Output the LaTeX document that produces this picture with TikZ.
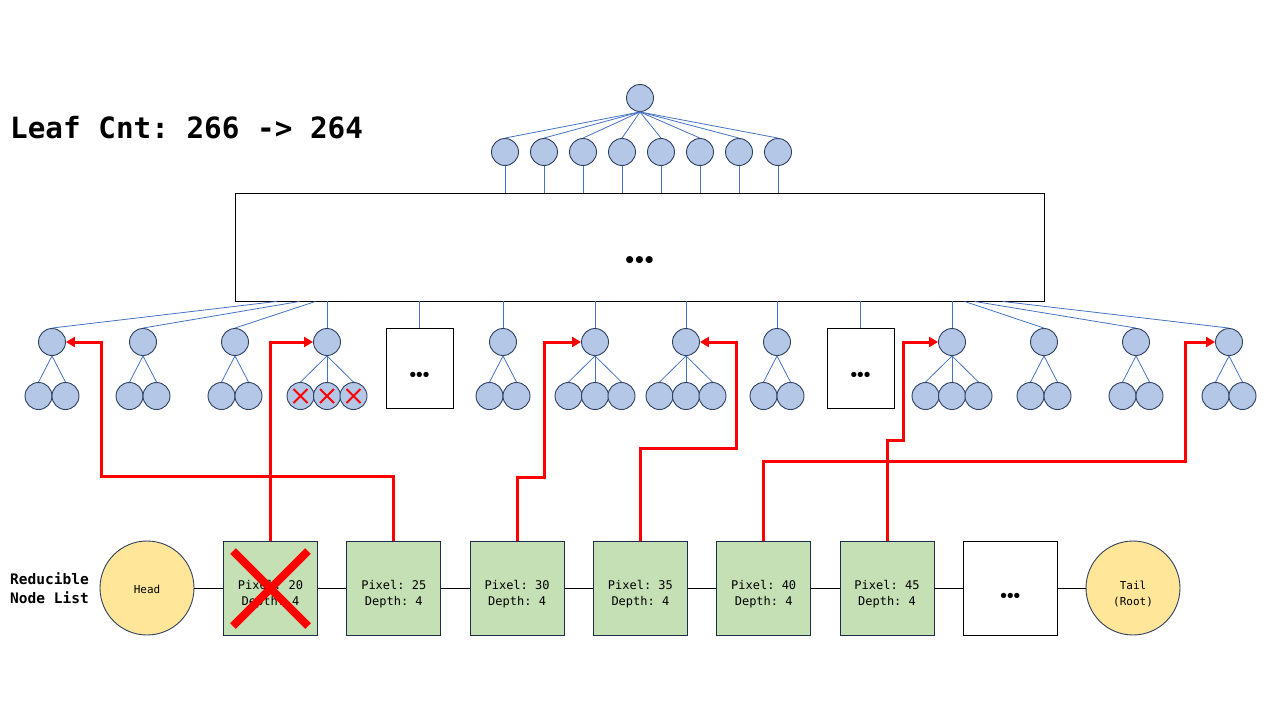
\documentclass[tikz,border=0pt]{standalone}
\usepackage{fontspec}
\setmonofont{DejaVu Sans Mono}
\newfontfamily\dotfont{DejaVu Sans}
\usetikzlibrary{calc,arrows.meta}
\definecolor{cfill}{HTML}{B4C7E7}
\definecolor{cdraw}{HTML}{2F4060}
\definecolor{lblue}{HTML}{4472C4}
\definecolor{gfill}{HTML}{C5E0B4}
\definecolor{gdraw}{HTML}{1F2D4D}
\definecolor{yfill}{HTML}{FFE699}
\definecolor{rred}{HTML}{FF0000}
\newcommand{\tdots}[1]{•\kern-#1pt•\kern-#1pt•}
\begin{document}
\begin{tikzpicture}[x=1pt,y=-1pt,
  tn/.style={circle,fill=cfill,draw=cdraw,line width=0.9pt,minimum size=27pt,inner sep=0pt},
  lk/.style={draw=lblue,line width=0.8pt},
  dbox/.style={draw=black,line width=0.9pt,fill=white,inner sep=0pt},
  lbox/.style={draw=gdraw,fill=gfill,line width=0.9pt,minimum width=94pt,minimum height=94pt,inner sep=0pt,align=center,font=\ttfamily\fontsize{12}{16}\selectfont},
  yc/.style={circle,draw=cdraw,fill=yfill,line width=0.9pt,minimum size=94pt,inner sep=0pt,align=center,font=\ttfamily\fontsize{11}{16}\selectfont},
  redarr/.style={draw=rred,line width=3pt,-{Triangle[length=9pt,width=10pt]}},
  redx/.style={draw=rred,line width=2pt},
  dts/.style={inner sep=0pt,font=\dotfont\bfseries\fontsize{#1}{#1}\selectfont}
]
\useasboundingbox (0,0) rectangle (1280,720);

% title
\node[anchor=base west,inner sep=0pt,font=\ttfamily\bfseries\fontsize{29.3}{34}\selectfont] (title) at (10,138) {Leaf Cnt: 266 -> 264};

% root and second level
\node[tn] (root) at (640,98) {};
\foreach \i/\x in {1/505,2/544,3/583,4/622,5/661,6/700,7/739,8/778}{
  \node[tn] (s\i) at (\x,152) {};
}
\node[dbox,minimum width=809pt,minimum height=108pt] (big) at (639.5,247) {};
\node[dts=20] (bigdots) at (639.5,262) {\tdots{3}};
\foreach \i in {1,...,8}{
  \draw[lk] (root.south) -- (s\i.north);
  \draw[lk] (s\i.south) -- (s\i.south |- big.north);
}

% third level
\foreach \i/\x in {1/52,2/143,3/235,4/327,6/503,7/595,8/686,9/777,11/952,12/1044,13/1136,14/1229}{
  \node[tn] (a\i) at (\x,342) {};
}
\node[dbox,minimum width=67pt,minimum height=80pt] (a5) at (419.5,368) {};
\node[dts=15] (d5) at (419.5,376) {\tdots{3}};
\node[dbox,minimum width=67pt,minimum height=80pt] (a10) at (860.5,368) {};
\node[dts=15] (d10) at (860.5,376) {\tdots{3}};

\draw[lk] ($(big.south west)+(42,0)$) -- (a1.north);
\draw[lk] ($(big.south west)+(65,0)$) -- (a2.north);
\draw[lk] ($(big.south west)+(81,0)$) -- (a3.north);
\draw[lk] ($(big.south west)+(730,0)$) -- (a12.north);
\draw[lk] ($(big.south west)+(740,0)$) -- (a13.north);
\draw[lk] ($(big.south west)+(768,0)$) -- (a14.north);
\foreach \i in {4,5,6,7,8,9,10,11}{
  \draw[lk] (a\i.north |- big.south) -- (a\i.north);
}

% leaves: two children
\foreach \i in {1,2,3,6,9,12,13,14}{
  \node[tn] (a\i l) at ($(a\i)+(-13.5,54)$) {};
  \node[tn] (a\i r) at ($(a\i)+(13.5,54)$) {};
  \draw[lk] (a\i.south) -- (a\i l.north);
  \draw[lk] (a\i.south) -- (a\i r.north);
}
% leaves: three children
\foreach \i in {4,7,8,11}{
  \node[tn] (a\i l) at ($(a\i)+(-26.5,54)$) {};
  \node[tn] (a\i m) at ($(a\i)+(0,54)$) {};
  \node[tn] (a\i r) at ($(a\i)+(26.5,54)$) {};
  \draw[lk] (a\i.south) -- (a\i l.north);
  \draw[lk] (a\i.south) -- (a\i m.north);
  \draw[lk] (a\i.south) -- (a\i r.north);
}
% red crosses on removed leaves
\foreach \n in {a4l,a4m,a4r}{
  \draw[redx] ([shift={(-7,-7)}]\n.center) -- ([shift={(7,7)}]\n.center);
  \draw[redx] ([shift={(-7,7)}]\n.center) -- ([shift={(7,-7)}]\n.center);
}

% reducible node list
\node[anchor=base west,inner sep=0pt,align=left,font=\ttfamily\bfseries\fontsize{14.5}{19}\selectfont] (lbl) at (10,603) {Reducible\\Node List};
\node[yc] (head) at (147,588) {\rule{0pt}{12pt}Head};
\node[lbox] (p20) at (270.5,588) {\rule{0pt}{21pt}Pixel: 20\\Depth: 4};
\node[lbox] (p25) at (393.8,588) {\rule{0pt}{21pt}Pixel: 25\\Depth: 4};
\node[lbox] (p30) at (517.1,588) {\rule{0pt}{21pt}Pixel: 30\\Depth: 4};
\node[lbox] (p35) at (640.4,588) {\rule{0pt}{21pt}Pixel: 35\\Depth: 4};
\node[lbox] (p40) at (763.7,588) {\rule{0pt}{21pt}Pixel: 40\\Depth: 4};
\node[lbox] (p45) at (887,588) {\rule{0pt}{21pt}Pixel: 45\\Depth: 4};
\node[dbox,minimum width=94pt,minimum height=94pt] (pdots) at (1010.3,588) {};
\node[dts=15] (pd) at (1010.3,597) {\tdots{3}};
\node[yc] (tail) at (1133,588) {\rule{0pt}{21pt}Tail\\(Root)};
\draw[black,line width=0.9pt] (head) -- (p20) -- (p25) -- (p30) -- (p35) -- (p40) -- (p45) -- (pdots) -- (tail);

% big red X on the first list item
\draw[draw=rred,line width=8pt] ($(p20.center)+(-37.5,-37)$) -- ($(p20.center)+(37.5,38)$);
\draw[draw=rred,line width=8pt] ($(p20.center)+(-37.5,38)$) -- ($(p20.center)+(37.5,-37)$);

% red pointers
\draw[redarr] (p25.north) |- (101,476) |- (a1.east);
\draw[redarr] (p20.north) |- (a4.west);
\draw[redarr] (p30.north) |- (544,477) |- (a7.west);
\draw[redarr] (p35.north) |- (736,448) |- (a8.east);
\draw[redarr] (p40.north) |- (1185,461) |- (a14.west);
\draw[redarr] (p45.north) |- (903,440) |- (a11.west);
\end{tikzpicture}
\end{document}
